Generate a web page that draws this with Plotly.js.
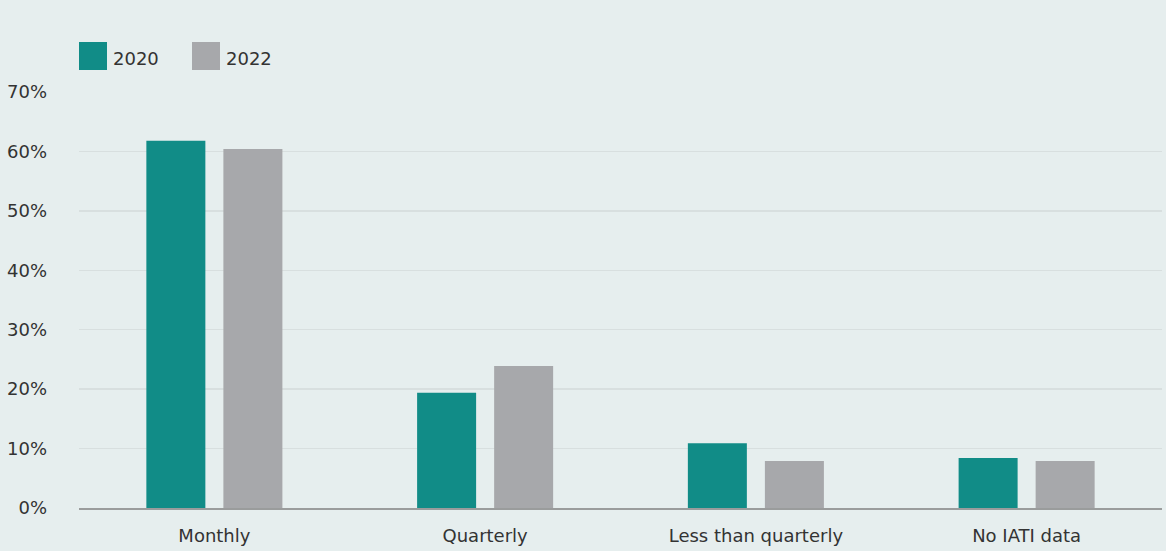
<!DOCTYPE html>
<html>
<head>
<meta charset="utf-8">
<script src="https://cdn.plot.ly/plotly-3.0.1.min.js"></script>
<style>html,body{margin:0;padding:0;background:#E6EEEE;}#chart{width:1166px;height:551px;}</style>
</head>
<body>
<div id="chart"></div>
<script>
const categories = ["Monthly", "Quarterly", "Less than quarterly", "No IATI data"];
const seriesNames = ["2020", "2022"];
const values2020 = [61.8, 19.4, 10.9, 8.4];
const values2022 = [60.4, 23.9, 7.9, 7.9];
const tickVals = [0, 10, 20, 30, 40, 50, 60, 70];
const tickText = ["0%", "10%", "20%", "30%", "40%", "50%", "60%", "70%"];
const colors = ["#118C87", "#A7A8AB"];

const font = "DejaVu Sans, sans-serif";
const traces = [values2020, values2022].map((v, i) => ({
  type: "bar",
  name: seriesNames[i],
  x: categories,
  y: v,
  marker: {color: colors[i]},
  hoverinfo: "x+y",
  showlegend: false
}));

const W = 1083, H = 416;
const shapes = [], annotations = [];
const legendX = [0, 113];
seriesNames.forEach((n, i) => {
  const x0 = legendX[i];
  shapes.push({type: "rect", xref: "paper", yref: "paper",
    x0: x0 / W, x1: (x0 + 28) / W, y0: (508 - 70) / H, y1: (508 - 42) / H,
    fillcolor: colors[i], line: {width: 0}});
  annotations.push({xref: "paper", yref: "paper", x: (x0 + 32) / W, y: (508 - 58) / H,
    xanchor: "left", yanchor: "middle", text: n, showarrow: false,
    font: {family: font, size: 18, color: "#333333"}});
});

const layout = {
  width: 1166, height: 551,
  paper_bgcolor: "#E6EEEE", plot_bgcolor: "#E6EEEE",
  margin: {l: 79, r: 4, t: 92, b: 43},
  barmode: "group", bargap: 0.431, bargroupgap: 0.234,
  font: {family: font, size: 18, color: "#333333"},
  xaxis: {showgrid: false, showline: true, linecolor: "#9A9C9C", linewidth: 1.5,
    ticks: "", ticklabelstandoff: 11, tickfont: {size: 18, color: "#333333"}},
  yaxis: {range: [0, 70], tickvals: tickVals, ticktext: tickText,
    showgrid: true, gridcolor: "#D8DFDF", gridwidth: 1.5, zeroline: false,
    ticks: "", ticklabelstandoff: 31, tickfont: {size: 18, color: "#333333"}},
  shapes: shapes, annotations: annotations
};
Plotly.newPlot("chart", traces, layout, {displayModeBar: false, staticPlot: true});
</script>
</body>
</html>
